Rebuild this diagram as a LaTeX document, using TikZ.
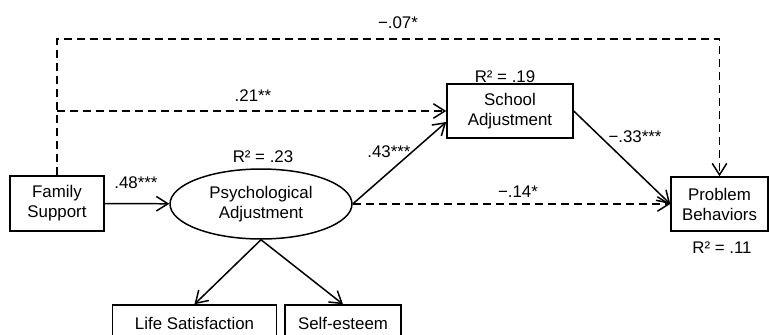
\documentclass[tikz,border=0pt]{standalone}
\usepackage{fontspec}
\setmainfont{Liberation Sans}
\usetikzlibrary{arrows.meta,shapes.geometric,positioning}
\tikzset{
  var/.style={draw, line width=0.85pt, minimum height=1.08cm, align=center, inner sep=1pt},
  latent/.style={draw, ellipse, line width=0.85pt, minimum width=3.64cm, minimum height=1.4cm, align=center, inner sep=0pt},
  effect/.style={line width=0.85pt, -{Straight Barb[length=2.3mm,width=2.9mm]}},
  noeffect/.style={effect, dash pattern=on 4.6pt off 2.8pt},
}
\begin{document}
\begin{tikzpicture}[x=0.02cm, y=-0.02cm, font=\fontsize{9.6}{11.4}\selectfont]
  \clip (0,0) rectangle (769,335);

  \node[var, minimum width=1.88cm, minimum height=1.1cm] (fam) at (57,203.5) {Family\\Support};
  \node[latent] (psy) at (261,204) {Psychological\\Adjustment};
  \node[var, minimum width=2.52cm] (school) at (510,111) {School\\Adjustment};
  \node[var, minimum width=1.94cm] (prob) at (719.5,204) {Problem\\Behaviors};
  \node[var, minimum width=3.28cm, minimum height=0.72cm] (life) at (194.5,323) {Life Satisfaction};
  \node[var, minimum width=2.32cm, minimum height=0.72cm] (self) at (343,323) {Self-esteem};
  \coordinate (topline) at (400,39);

  \draw[effect] (fam) to (psy);
  \draw[effect] (psy.east) to ([yshift=-0.22cm]school.west);
  \draw[effect] (school.east) to (prob.west);
  \draw[noeffect] (psy.east) to (prob.west);
  \draw[noeffect] (fam.north |- school.west) to (school.west);
  \draw[noeffect] (fam.north) |- (topline) -| (prob.north);
  \draw[effect] (psy.south) to (life.north);
  \draw[effect] (psy.south) to (self.north);

  \node (c07) at (398,23) {−.07*};
  \node (c21) at (253,96) {.21**};
  \node (c48) at (136,183) {.48***};
  \node (c43) at (389,152) {.43***};
  \node (c33) at (635,137) {−.33***};
  \node (c14) at (518,192) {−.14*};
  \node (r23) at (263,157) {R² = .23};
  \node (r19) at (505,77) {R² = .19};
  \node (r11) at (722,248) {R² = .11};

\end{tikzpicture}
\end{document}
